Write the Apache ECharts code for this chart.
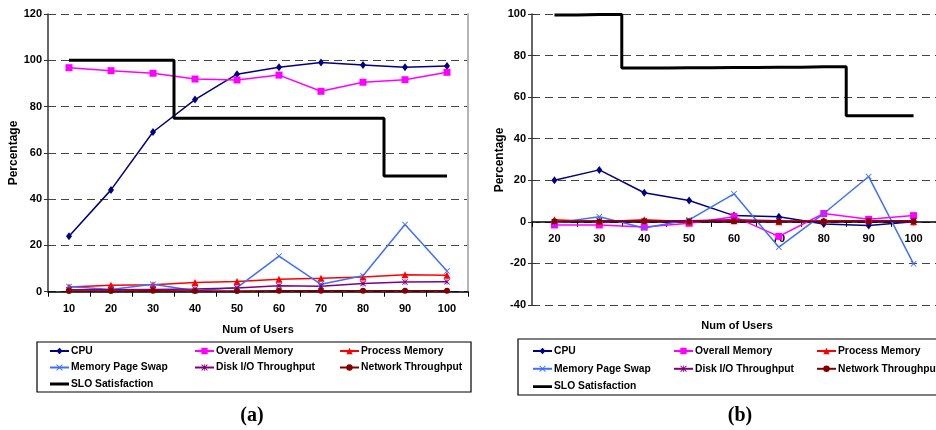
<!DOCTYPE html>
<html>
<head>
<meta charset="utf-8">
<script src="https://cdn.jsdelivr.net/npm/echarts@6/dist/echarts.min.js"></script>
<style>
  html, body { margin: 0; padding: 0; background: #fff; }
  #chart { width: 936px; height: 430px; }
</style>
</head>
<body>
<div id="chart"></div>
<script>
// Panel (a): utilisation metrics vs number of users
const usersA = ['10', '20', '30', '40', '50', '60', '70', '80', '90', '100'];
const cpuA     = [24, 44, 69, 83, 94, 97, 99, 98, 97, 97.5];
const memA     = [96.8, 95.5, 94.4, 91.9, 91.5, 93.6, 86.6, 90.5, 91.6, 94.8];
const procA    = [2.0, 2.8, 3.0, 4.0, 4.4, 5.4, 5.8, 6.4, 7.3, 7.1];
const swapA    = [2.2, 1.0, 3.2, 0.4, 1.8, 15.4, 3.2, 6.9, 29.0, 8.9];
const diskA    = [0.8, 0.8, 1.0, 1.2, 1.6, 2.6, 2.4, 3.5, 4.2, 4.3];
const netA     = [0.3, 0.3, 0.4, 0.3, 0.3, 0.4, 0.4, 0.4, 0.4, 0.4];
const sloA     = [100, 100, 100, 75, 75, 75, 75, 75, 50, 50];
const ticksA   = { min: 0, max: 120, interval: 20 };

// Panel (b): same metrics, 20..100 users
const usersB = ['20', '30', '40', '50', '60', '70', '80', '90', '100'];
const cpuB     = [20, 25, 14, 10.3, 3, 2.5, -1, -1.8, 0];
const memB     = [-1.5, -1.5, -2.5, -0.7, 2.5, -7, 4, 1.2, 3];
const procB    = [1, 0, 1, 0, 0.5, 0, 0.5, 0.5, 0];
const swapB    = [-0.6, 2.5, -3, 1, 13.5, -12.2, 4, 21.8, -20.2];
const diskB    = [0, 0.5, 0.5, 0.5, 1, 0.5, 0, 0.5, 0.5];
const netB     = [0.3, 0.2, 0.3, 0.2, 0.3, 0.2, 0.3, 0.3, 0.3];
const sloB     = [99.5, 99.8, 74, 74.2, 74.3, 74.4, 74.6, 51, 51];
const ticksB   = { min: -40, max: 100, interval: 20 };

const legendCols = [
  ['CPU', 'Memory Page Swap', 'SLO Satisfaction'],
  ['Overall Memory', 'Disk I/O Throughput'],
  ['Process Memory', 'Network Throughput']
];

const FONT = '"Liberation Sans", Arial, sans-serif';
const xSymbol = 'path://M0,1 L1,0 L5,4 L9,0 L10,1 L6,5 L10,9 L9,10 L5,6 L1,10 L0,9 L4,5 Z';
const starSymbol = 'path://M0,1 L1,0 L5,4 L9,0 L10,1 L6,5 L10,9 L9,10 L5,6 L1,10 L0,9 L4,5 Z M4.4,0 L5.6,0 L5.6,10 L4.4,10 Z';
// plain bar used as the legend key of the SLO step line
const barIcon = 'path://M0,0 L0.01,0 L0,0 Z M0,2.6 L19,2.6 L19,5.4 L0,5.4 Z M0,8 L0.01,8 L0,8 Z';

const styles = {
  'CPU':                 { color: '#000080', symbol: 'diamond', symbolSize: [6, 8] },
  'Overall Memory':      { color: '#FF00FF', symbol: 'rect', symbolSize: 7 },
  'Process Memory':      { color: '#FF0000', symbol: 'triangle', symbolSize: 7 },
  'Memory Page Swap':    { color: '#3F6FFF', symbol: xSymbol, symbolSize: 6 },
  'Disk I/O Throughput': { color: '#800080', symbol: starSymbol, symbolSize: 6 },
  'Network Throughput':  { color: '#800000', symbol: 'circle', symbolSize: 6 },
  'SLO Satisfaction':    { color: '#000000', symbol: 'none', symbolSize: 0 }
};

function makeSeries(name, data, idx) {
  const s = styles[name];
  const isSlo = name === 'SLO Satisfaction';
  return {
    name: name,
    type: 'line',
    xAxisIndex: idx,
    yAxisIndex: idx,
    data: data,
    step: isSlo ? 'middle' : false,
    symbol: s.symbol,
    symbolSize: s.symbolSize,
    showSymbol: !isSlo,
    color: s.color,
    itemStyle: { color: s.color },
    lineStyle: { color: s.color, width: isSlo ? 3 : 1.5 },
    animation: false,
    z: isSlo ? 3 : 2
  };
}

const labelStyle = { color: '#000', fontFamily: FONT, fontWeight: 'bold', fontSize: 11 };

function xAxisFor(idx, cats, offset) {
  return {
    type: 'category',
    gridIndex: idx,
    data: cats,
    boundaryGap: true,
    position: 'bottom',
    offset: offset,
    axisLine: { onZero: false, lineStyle: { color: '#000', width: 1.5 } },
    axisTick: { show: true, length: 5, lineStyle: { color: '#000', width: 1 } },
    axisLabel: Object.assign({ margin: 12 }, labelStyle),
    splitLine: { show: false }
  };
}

function yAxisFor(idx, t) {
  return {
    type: 'value',
    gridIndex: idx,
    min: t.min, max: t.max, interval: t.interval,
    axisLine: { show: true, lineStyle: { color: '#333', width: 1.5 } },
    axisTick: { show: true, length: 4, lineStyle: { color: '#333' } },
    axisLabel: Object.assign({ margin: 6 }, labelStyle),
    splitLine: { show: true, lineStyle: { color: '#444', width: 1, type: [8, 5] } }
  };
}

function legendCol(left, top, names, gap) {
  return {
    orient: 'vertical',
    left: left, top: top,
    itemGap: gap,
    itemWidth: 19, itemHeight: 8,
    padding: 0,
    selectedMode: false,
    textStyle: { color: '#000', fontFamily: FONT, fontWeight: 'bold', fontSize: 10.3, lineHeight: 12, padding: [0, 0, 0, -3] },
    data: names.map(n => n === 'SLO Satisfaction' ? { name: n, icon: barIcon } : n)
  };
}

const chart = echarts.init(document.getElementById('chart'), null, { renderer: 'canvas' });

// panel geometry
const gridA = { left: 48, top: 14, width: 420, height: 277.7 };
const gridB = { left: 532, top: 14, width: 410.4, height: 291 };
// panel (b) draws its category axis along the zero line
const zeroOffsetB = -gridB.height * (0 - ticksB.min) / (ticksB.max - ticksB.min);

const yA = yAxisFor(0, ticksA);
const yB = yAxisFor(1, ticksB);
// right-hand frame of panel (a)
const yAFrame = {
  type: 'value', gridIndex: 0, position: 'right',
  min: ticksA.min, max: ticksA.max, interval: ticksA.interval,
  axisLine: { show: true, lineStyle: { color: '#b4b4b4', width: 2 } },
  axisTick: { show: false }, axisLabel: { show: false }, splitLine: { show: false }
};
// inner half of the crossing ticks on panel (b)
const yBInner = {
  type: 'value', gridIndex: 1, position: 'left',
  min: ticksB.min, max: ticksB.max, interval: ticksB.interval,
  axisLine: { show: false },
  axisTick: { show: true, inside: true, length: 4, lineStyle: { color: '#333' } },
  axisLabel: { show: false }, splitLine: { show: false }
};

const names = ['CPU', 'Overall Memory', 'Process Memory', 'Memory Page Swap', 'Disk I/O Throughput', 'Network Throughput', 'SLO Satisfaction'];
const dataA = [cpuA, memA, procA, swapA, diskA, netA, sloA];
const dataB = [cpuB, memB, procB, swapB, diskB, netB, sloB];

const series = [];
names.forEach((n, i) => series.push(makeSeries(n, dataA[i], 0)));
names.forEach((n, i) => series.push(makeSeries(n, dataB[i], 1)));

const titleFont = 'bold 11px ' + FONT;

chart.setOption({
  backgroundColor: '#fff',
  animation: false,
  grid: [
    Object.assign({ containLabel: false }, gridA),
    Object.assign({ containLabel: false }, gridB)
  ],
  xAxis: [xAxisFor(0, usersA, 0), xAxisFor(1, usersB, zeroOffsetB)],
  yAxis: [yA, yB, yAFrame, yBInner],
  legend: [
    legendCol(49, 345, legendCols[0], 4.5),
    legendCol(194, 345, legendCols[1], 4.5),
    legendCol(339, 345, legendCols[2], 4.5),
    legendCol(532, 345, legendCols[0], 5.8),
    legendCol(673, 345, legendCols[1], 5.8),
    legendCol(816, 345, legendCols[2], 5.8)
  ],
  graphic: [
    { type: 'rect', shape: { x: 37, y: 342, width: 434, height: 50 }, style: { fill: 'none', stroke: '#000', lineWidth: 1.2 } },
    { type: 'rect', shape: { x: 518, y: 339, width: 430, height: 56 }, style: { fill: 'none', stroke: '#000', lineWidth: 1.2 } },
    { type: 'text', x: 14, y: 153, rotation: Math.PI / 2, style: { text: 'Percentage', fill: '#000', font: 'bold 12px ' + FONT, align: 'center', verticalAlign: 'middle' } },
    { type: 'text', x: 500, y: 160, rotation: Math.PI / 2, style: { text: 'Percentage', fill: '#000', font: 'bold 12px ' + FONT, align: 'center', verticalAlign: 'middle' } },
    { type: 'text', x: 258, y: 330, style: { text: 'Num of Users', fill: '#000', font: titleFont, align: 'center', verticalAlign: 'middle' } },
    { type: 'text', x: 737, y: 326, style: { text: 'Num of Users', fill: '#000', font: titleFont, align: 'center', verticalAlign: 'middle' } },
    { type: 'text', x: 252, y: 416, style: { text: '(a)', fill: '#000', font: 'bold 20px "Liberation Serif", "Times New Roman", serif', align: 'center', verticalAlign: 'middle' } },
    { type: 'text', x: 740, y: 416, style: { text: '(b)', fill: '#000', font: 'bold 20px "Liberation Serif", "Times New Roman", serif', align: 'center', verticalAlign: 'middle' } }
  ],
  series: series
});
</script>
</body>
</html>
